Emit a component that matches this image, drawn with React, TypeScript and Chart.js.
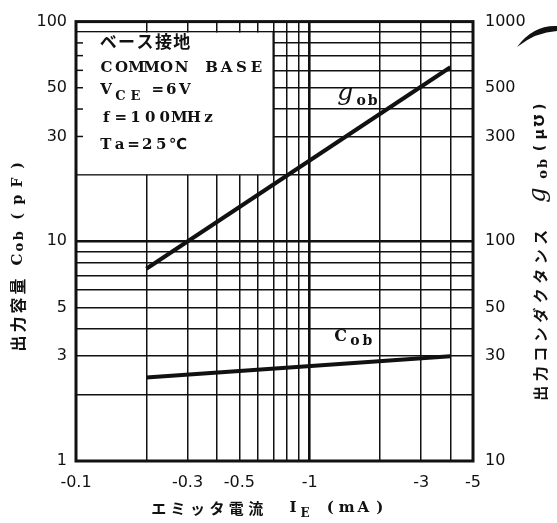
import React, { useEffect, useRef } from "react";
import { Chart, registerables } from "chart.js";
Chart.register(...registerables);

// |I_E| in mA (axis labelled with negative values)
const emitterCurrent = [0.2, 4];
// C_ob in pF (left axis)
const cobValues = [2.4, 3.0];
// g_ob in µ℧ (right axis)
const gobValues = [75, 620];

const xGridValues = [0.1, 0.2, 0.3, 0.4, 0.5, 0.6, 0.7, 0.8, 0.9, 1, 2, 3, 4, 5];
const xTickLabels: Record<string, string> = { "0.1": "-0.1", "0.3": "-0.3", "0.5": "-0.5", "1": "-1", "3": "-3", "5": "-5" };
const leftGridValues = [1, 2, 3, 4, 5, 6, 7, 8, 9, 10, 20, 30, 40, 50, 60, 70, 80, 90, 100];
const leftTickLabels = [1, 3, 5, 10, 30, 50, 100];
const rightTickValues = [10, 30, 50, 100, 300, 500, 1000];

const INK = "#111";
const CJK = '"Noto Sans CJK JP"';

function mono(ctx: CanvasRenderingContext2D, text: string, x: number, y: number, cell: number, font: string) {
  ctx.font = font;
  ctx.textAlign = "center";
  ctx.textBaseline = "middle";
  const chars = Array.from(text);
  chars.forEach((ch, i) => {
    if (ch !== " ") ctx.fillText(ch, x + i * cell + cell / 2, y);
  });
}

const decorPlugin = {
  id: "decor",
  beforeDatasetsDraw(chart: any) {
    const ctx: CanvasRenderingContext2D = chart.ctx;
    const xs = chart.scales.x;
    const ys = chart.scales.y;
    const ca = chart.chartArea;
    ctx.save();
    // legend box (white) covering grid
    const bx0 = xs.getPixelForValue(0.1);
    const bx1 = xs.getPixelForValue(0.7);
    const by0 = ys.getPixelForValue(90);
    const by1 = ys.getPixelForValue(20);
    ctx.fillStyle = "#fff";
    ctx.fillRect(bx0, by0 + 1, bx1 - bx0, by1 - by0 - 2);
    ctx.strokeStyle = INK;
    ctx.lineWidth = 2;
    ctx.beginPath();
    ctx.moveTo(bx1, by0);
    ctx.lineTo(bx1, by1);
    ctx.stroke();
    // small ticks on the left border inside the box
    ctx.lineWidth = 1.5;
    [30, 40, 50, 60, 70, 80].forEach((v) => {
      const py = ys.getPixelForValue(v);
      ctx.beginPath();
      ctx.moveTo(ca.left, py);
      ctx.lineTo(ca.left + 7, py);
      ctx.stroke();
    });
    // frame
    ctx.lineWidth = 3;
    ctx.strokeRect(ca.left, ca.top, ca.right - ca.left, ca.bottom - ca.top);
    ctx.restore();
  },
  afterDraw(chart: any) {
    const ctx: CanvasRenderingContext2D = chart.ctx;
    const xs = chart.scales.x;
    const ys = chart.scales.y;
    const y2 = chart.scales.y2;
    ctx.save();
    ctx.fillStyle = INK;

    // legend text
    const lx = xs.getPixelForValue(0.1) + 23;
    mono(ctx, "ベース接地", lx, 42, 18.4, `bold 17px ${CJK}`);
    mono(ctx, "COMMON BASE", lx, 68, 15, 'bold 15px "DejaVu Serif"');
    mono(ctx, "V", lx, 90, 14, 'bold 15px "DejaVu Serif"');
    mono(ctx, "CE", lx + 14, 97, 15, 'bold 13px "DejaVu Serif"');
    mono(ctx, "=6V", lx + 52, 90, 13.5, 'bold 15px "DejaVu Serif"');
    mono(ctx, "f=100MHz", lx, 118, 14.6, 'bold 15px "DejaVu Serif"');
    mono(ctx, "Ta=25", lx, 145, 13.8, 'bold 15px "DejaVu Serif"');
    mono(ctx, "℃", lx + 70, 145, 18, 'bold 15px "DejaVu Sans"');

    // series labels
    const gx = xs.getPixelForValue(1.3);
    const gy = y2.getPixelForValue(460);
    mono(ctx, "g", gx, gy - 2, 18, 'italic 25px "DejaVu Serif"');
    mono(ctx, "ob", gx + 19, gy + 6, 11.5, 'bold 14px "DejaVu Serif"');
    const cx = xs.getPixelForValue(1.28);
    const cy = ys.getPixelForValue(3.56);
    mono(ctx, "C", cx, cy - 3, 12, 'bold 16px "DejaVu Serif"');
    mono(ctx, "ob", cx + 14, cy + 2, 12.5, 'bold 14px "DejaVu Serif"');

    // x axis title
    mono(ctx, "エミッタ電流", 149, 508, 19.4, `bold 15px ${CJK}`);
    mono(ctx, "I", 288, 508, 10, 'bold 15px "DejaVu Serif"');
    mono(ctx, "E", 299, 514, 12, 'bold 12px "DejaVu Serif"');
    mono(ctx, "(mA)", 322, 508, 16.5, 'bold 15px "DejaVu Serif"');

    // left title (rotated)
    ctx.save();
    ctx.translate(18, 353);
    ctx.rotate(-Math.PI / 2);
    mono(ctx, "出力容量", 0, 0, 19, `bold 16px ${CJK}`);
    mono(ctx, "C", 87, 0, 13, 'bold 15px "DejaVu Serif"');
    mono(ctx, "ob", 100, 2, 11.5, 'bold 13px "DejaVu Serif"');
    mono(ctx, "(pF)", 128, 0, 17, 'bold 14px "DejaVu Serif"');
    ctx.restore();

    // right title (rotated)
    ctx.save();
    ctx.translate(540, 403);
    ctx.rotate(-Math.PI / 2);
    mono(ctx, "出力コンダクタンス", 0, 0, 19.5, `bold 15px ${CJK}`);
    mono(ctx, "g", 196, -1, 24, 'italic 24px "DejaVu Serif"');
    mono(ctx, "ob", 223, 4, 11, 'bold 13px "DejaVu Serif"');
    mono(ctx, "(μ℧)", 248, 0, 13.8, 'bold 14px "DejaVu Sans"');
    ctx.restore();

    // scan artefact crescent at top right
    ctx.beginPath();
    ctx.moveTo(517, 47);
    ctx.quadraticCurveTo(533, 25, 557, 26);
    ctx.lineTo(557, 31);
    ctx.quadraticCurveTo(536, 32, 517, 47);
    ctx.closePath();
    ctx.fill();

    ctx.restore();
  },
};

export default function App() {
  const ref = useRef<HTMLCanvasElement>(null);
  useEffect(() => {
    if (!ref.current) return;
    const tickFont = { family: '"DejaVu Sans"', size: 16 };
    const chart = new Chart(ref.current, {
      type: "line",
      data: {
        datasets: [
          {
            label: "Cob",
            data: emitterCurrent.map((x, i) => ({ x, y: cobValues[i] })),
            yAxisID: "y",
            borderColor: INK,
            borderWidth: 4,
            pointRadius: 0,
          },
          {
            label: "gob",
            data: emitterCurrent.map((x, i) => ({ x, y: gobValues[i] })),
            yAxisID: "y2",
            borderColor: INK,
            borderWidth: 4,
            pointRadius: 0,
          },
        ],
      },
      options: {
        responsive: false,
        animation: false,
        layout: { padding: { top: 12, left: 0, right: 0, bottom: 0 } },
        plugins: { legend: { display: false }, tooltip: { enabled: false } },
        scales: {
          x: {
            type: "logarithmic",
            min: 0.1,
            max: 5,
            afterBuildTicks: (s: any) => {
              s.ticks = xGridValues.map((v) => ({ value: v }));
            },
            afterFit: (s: any) => {
              s.height = 62;
            },
            ticks: {
              autoSkip: false,
              maxRotation: 0,
              minRotation: 0,
              padding: 12,
              color: INK,
              font: tickFont,
              callback: (v: any) => xTickLabels[String(v)] ?? "",
            },
            grid: {
              color: INK,
              drawTicks: false,
              lineWidth: (c: any) => (c.tick && c.tick.value === 1 ? 2.6 : 1.5),
            },
            border: { display: false },
          },
          y: {
            type: "logarithmic",
            position: "left",
            min: 1,
            max: 100,
            afterBuildTicks: (s: any) => {
              s.ticks = leftGridValues.map((v) => ({ value: v }));
            },
            afterFit: (s: any) => {
              s.width = 76;
            },
            ticks: {
              autoSkip: false,
              padding: 9,
              color: INK,
              font: tickFont,
              callback: (v: any) => (leftTickLabels.includes(Number(v)) ? String(v) : ""),
            },
            grid: {
              color: INK,
              drawTicks: false,
              lineWidth: (c: any) => (c.tick && c.tick.value === 10 ? 2.6 : 1.5),
            },
            border: { display: false },
          },
          y2: {
            type: "logarithmic",
            position: "right",
            min: 10,
            max: 1000,
            afterBuildTicks: (s: any) => {
              s.ticks = rightTickValues.map((v) => ({ value: v }));
            },
            afterFit: (s: any) => {
              s.width = 84;
            },
            ticks: {
              autoSkip: false,
              padding: 12,
              color: INK,
              font: tickFont,
              callback: (v: any) => String(v),
            },
            grid: { display: false, drawTicks: false },
            border: { display: false },
          },
        },
      } as any,
      plugins: [decorPlugin],
    });
    return () => chart.destroy();
  }, []);
  return (
    <div style={{ position: "fixed", left: 0, top: 0, width: 557, height: 523, background: "#fff" }}>
      <canvas ref={ref} width={557} height={523} style={{ width: 557, height: 523, display: "block" }} />
    </div>
  );
}
